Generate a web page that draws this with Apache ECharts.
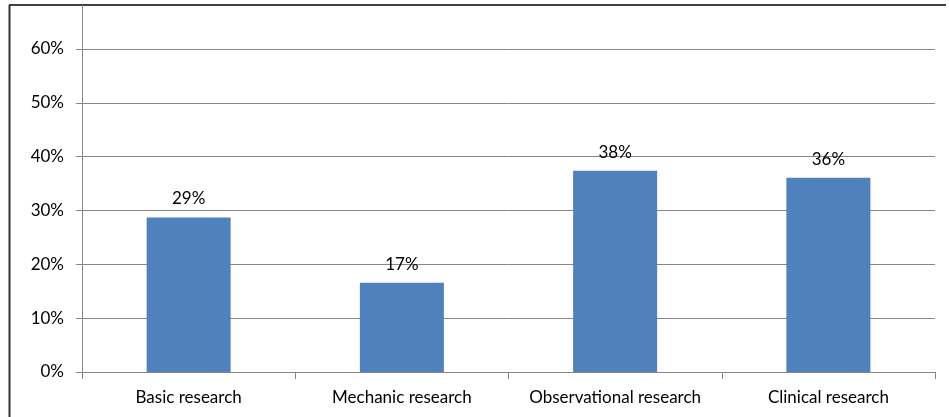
<!DOCTYPE html>
<html>
<head>
<meta charset="utf-8">
<script src="https://cdn.jsdelivr.net/npm/echarts@6/dist/echarts.min.js"></script>
<style>
	html, body { margin: 0; padding: 0; background: #fff; }
	#main { width: 949px; height: 417px; }
</style>
</head>
<body>
<div id="main"></div>
<script>
	// 数据
	var categories = [ 'Basic research', 'Mechanic research', 'Observational research', 'Clinical research' ];
	var values = [ 28.7, 16.6, 37.4, 36.1 ];
	var valueLabels = [ '29%', '17%', '38%', '36%' ];
	var yTicks = [ 0, 10, 20, 30, 40, 50, 60 ];

	var axisGray = '#868686';
	var font = 'Lato, "Liberation Sans", sans-serif';

	var mychart = echarts.init(document.getElementById('main'));
	var option = {
		backgroundColor : '#FFFFFF',
		animation : false,
		grid : {
			left : 82,
			right : 14,
			top : 49,
			bottom : 45,
			containLabel : false
		},
		xAxis : [ {
			type : 'category',
			data : categories,
			boundaryGap : true,
			axisLine : {
				lineStyle : { color : axisGray, width : 1 }
			},
			axisTick : {
				show : true,
				interval : 0,
				alignWithLabel : false,
				length : 7,
				lineStyle : { color : axisGray }
			},
			axisLabel : {
				interval : 0,
				hideOverlap : false,
				color : '#000',
				fontFamily : font,
				fontSize : 17,
				margin : 17
			}
		} ],
		yAxis : [ {
			type : 'value',
			min : yTicks[0],
			max : yTicks[yTicks.length - 1],
			interval : 10,
			axisLine : {
				show : true,
				lineStyle : { color : axisGray, width : 1 }
			},
			axisTick : {
				show : true,
				length : 6,
				lineStyle : { color : axisGray }
			},
			splitLine : {
				show : true,
				lineStyle : { color : axisGray, width : 1 }
			},
			axisLabel : {
				color : '#000',
				fontFamily : font,
				fontSize : 17,
				margin : 18,
				formatter : '{value}%'
			}
		} ],
		series : [ {
			type : 'bar',
			data : values,
			barWidth : 84,
			itemStyle : { color : '#4F81BD' },
			label : {
				show : true,
				position : 'top',
				distance : 10,
				color : '#000',
				fontFamily : font,
				fontSize : 17,
				formatter : function(p) {
					return valueLabels[p.dataIndex];
				}
			}
		} ],
		// 外框和纵轴延伸
		graphic : [ {
			type : 'line',
			shape : { x1 : 9, y1 : 5, x2 : 946, y2 : 5 },
			style : { stroke : '#000', lineWidth : 1.5 }
		}, {
			type : 'line',
			shape : { x1 : 9.5, y1 : 5, x2 : 9.5, y2 : 417 },
			style : { stroke : '#333', lineWidth : 2 }
		}, {
			type : 'line',
			shape : { x1 : 82.5, y1 : 5, x2 : 82.5, y2 : 49 },
			style : { stroke : axisGray, lineWidth : 1 }
		} ]
	};
	mychart.setOption(option);
</script>
</body>
</html>
